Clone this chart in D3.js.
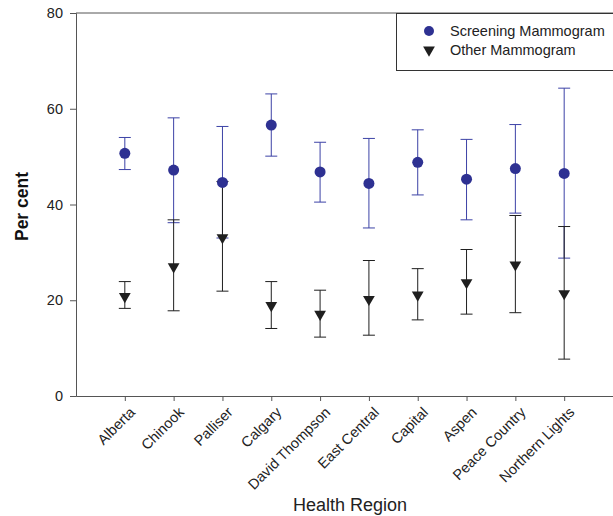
<!DOCTYPE html>
<html><head><meta charset="utf-8">
<script src="https://cdn.jsdelivr.net/npm/d3@7"></script>
<style>body{margin:0;background:#fff}svg{display:block;font-family:"Liberation Sans",Arial,sans-serif}</style>
</head><body><svg id="c" width="613" height="516"></svg>
<script>
const regions = ["Alberta","Chinook","Palliser","Calgary","David Thompson","East Central","Capital","Aspen","Peace Country","Northern Lights"];
const screening = [50.7,47.2,44.6,56.6,46.8,44.4,48.8,45.3,47.5,46.5];
const screeningLow = [47.3,36.2,33.0,50.1,40.5,35.1,42.0,36.8,38.2,28.8];
const screeningHigh = [54.0,58.1,56.3,63.1,53.0,53.8,55.6,53.6,56.7,64.3];
const other = [20.8,27.0,33.1,18.9,17.1,20.2,21.1,23.7,27.4,21.4];
const otherLow = [18.3,17.8,21.9,14.1,12.3,12.7,15.9,17.1,17.4,7.7];
const otherHigh = [23.9,36.8,44.8,23.9,22.1,28.3,26.6,30.6,37.7,35.4];
const yTicks = [0,20,40,60,80];
const seriesNames = ["Screening Mammogram","Other Mammogram"];

const svg = d3.select("#c");
const L=76, R=613, T=13, B=396;
const x = d3.scaleLinear().domain([0, regions.length+1]).range([L,R]);
const y = d3.scaleLinear().domain([0,80]).range([B,T]);
const axisCol = "#555";
const blue = "#2e3192", blueBar = "#3c42a6", black = "#1f1f1f";

// y axis
const ya = svg.append("g").attr("transform",`translate(${L},0)`)
  .call(d3.axisLeft(y).tickValues(yTicks).tickSize(6).tickPadding(7));
ya.select(".domain").attr("stroke",axisCol);
ya.selectAll(".tick line").attr("stroke",axisCol);
ya.selectAll("text").attr("font-size",14.5).attr("fill","#222").attr("font-family","Liberation Sans, Arial, sans-serif");

// x axis
const xa = svg.append("g").attr("transform",`translate(0,${B})`)
  .call(d3.axisBottom(x).tickValues(d3.range(1,regions.length+1)).tickSize(5).tickSizeOuter(0).tickFormat(""));
xa.select(".domain").attr("stroke",axisCol);
xa.selectAll(".tick line").attr("stroke",axisCol);
// top line
svg.append("line").attr("x1",L).attr("x2",R).attr("y1",T).attr("y2",T).attr("stroke",axisCol);

// x labels
svg.append("g").selectAll("text").data(regions).join("text")
  .attr("transform",(d,i)=>`translate(${x(i+1)+4},${B+10}) rotate(-45)`)
  .attr("text-anchor","end").attr("dy","0.7em")
  .attr("font-size",14.5).attr("fill","#222").text(d=>d);

// axis titles
svg.append("text").attr("transform",`translate(28,${(T+B)/2+2}) rotate(-90)`)
  .attr("text-anchor","middle").attr("font-size",17.5).attr("font-weight","bold").attr("fill","#111").text("Per cent");
svg.append("text").attr("x",350).attr("y",511).attr("text-anchor","middle")
  .attr("font-size",18).attr("fill","#222").text("Health Region");

// error bars
function errBars(low, high, col){
  const g = svg.append("g").attr("stroke",col).attr("stroke-width",1).attr("fill","none");
  regions.forEach((r,i)=>{
    const cx = x(i+1);
    g.append("line").attr("x1",cx).attr("x2",cx).attr("y1",y(low[i])).attr("y2",y(high[i]));
    g.append("line").attr("x1",cx-6).attr("x2",cx+6).attr("y1",y(low[i])).attr("y2",y(low[i]));
    g.append("line").attr("x1",cx-6).attr("x2",cx+6).attr("y1",y(high[i])).attr("y2",y(high[i]));
  });
}
errBars(screeningLow, screeningHigh, blueBar);
errBars(otherLow, otherHigh, black);

const tri = d3.symbol().type(d3.symbolTriangle).size(60);
svg.append("g").selectAll("circle").data(screening).join("circle")
  .attr("cx",(d,i)=>x(i+1)).attr("cy",d=>y(d)).attr("r",5.5).attr("fill",blue);
svg.append("g").selectAll("path").data(other).join("path")
  .attr("d",tri).attr("transform",(d,i)=>`translate(${x(i+1)},${y(d)}) rotate(180)`).attr("fill",black);

// legend
const lg = svg.append("g");
lg.append("rect").attr("x",396.5).attr("y",13.5).attr("width",230).attr("height",57)
  .attr("fill","#fff").attr("stroke","#333");
lg.append("circle").attr("cx",429).attr("cy",31).attr("r",5).attr("fill",blue);
lg.append("path").attr("d",tri).attr("transform","translate(429,50) rotate(180)").attr("fill",black);
lg.append("text").attr("x",450).attr("y",31).attr("dy","0.35em").attr("font-size",14.5).attr("fill","#222").text(seriesNames[0]);
lg.append("text").attr("x",450).attr("y",50).attr("dy","0.35em").attr("font-size",14.5).attr("fill","#222").text(seriesNames[1]);
</script></body></html>
